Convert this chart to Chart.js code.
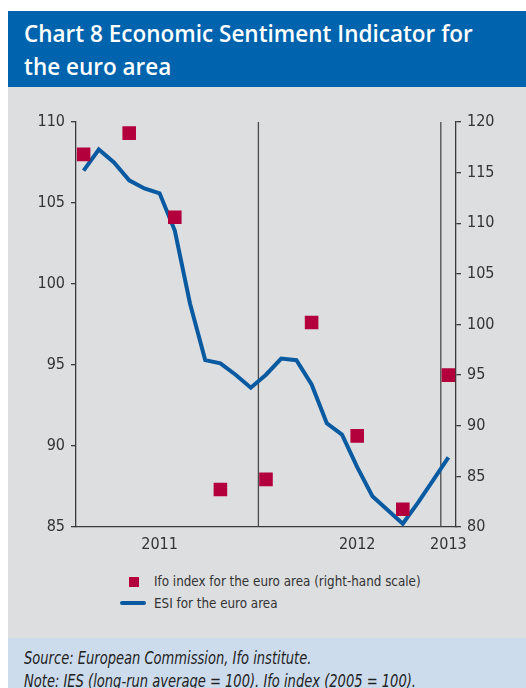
<!DOCTYPE html>
<html>
<head>
<meta charset="utf-8">
<script src="https://cdn.jsdelivr.net/npm/chart.js@4/dist/chart.umd.min.js"></script>
<style>
  html, body { margin: 0; padding: 0; background: #ffffff; }
  body { width: 526px; height: 688px; position: relative; overflow: hidden; }
  .title {
    position: absolute; left: 8px; top: 11px; width: 518px; height: 76px;
    background: #0063ae; color: #ffffff; box-sizing: border-box;
    padding: 6px 0 0 16px;
    font-family: "Open Sans", Lato, sans-serif; font-weight: 600;
    font-size: 22.5px; line-height: 33px; white-space: nowrap;
  }
  .panel {
    position: absolute; left: 8px; top: 87px; width: 518px; height: 551px;
    background: #dcdee0;
  }
  #chart { position: absolute; left: 0; top: 87px; }
  .legend {
    position: absolute; left: 0; top: 570px; width: 526px;
    font-family: "DejaVu Sans Condensed", "Liberation Sans Narrow", sans-serif;
    font-size: 13.3px; color: #333333;
  }
  .legend .row { position: absolute; left: 154px; white-space: nowrap; line-height: 16px; }
  .legend .sq { position: absolute; left: 129px; top: 7px; width: 10px; height: 10px; background: #b3003c; }
  .legend .ln { position: absolute; left: 120px; top: 31px; width: 26px; height: 4px; background: #0a5aa2; border-radius: 2px; }
  .footer {
    position: absolute; left: 8px; top: 638px; width: 518px; height: 60px;
    background: #cddcec; color: #222222; box-sizing: border-box;
    padding: 9px 0 0 16px;
    font-family: "DejaVu Sans Condensed", "Liberation Sans Narrow", sans-serif;
    font-style: italic; font-size: 17px; line-height: 23px; white-space: nowrap;
  }
  .footer span { display: inline-block; transform: scaleX(0.855); transform-origin: 0 50%; }
</style>
</head>
<body>
<div class="title">Chart 8 Economic Sentiment Indicator for<br>the euro area</div>
<div class="panel"></div>
<canvas id="chart" width="526" height="470"></canvas>
<div class="legend">
  <div class="sq"></div>
  <div class="row" style="top:4px;">Ifo index for the euro area (right-hand scale)</div>
  <div class="ln"></div>
  <div class="row" style="top:26px;">ESI for the euro area</div>
</div>
<div class="footer"><span>Source: European Commission, Ifo institute.</span><br><span>Note: IES (long-run average = 100). Ifo index (2005 = 100).</span></div>

<script>
// Monthly categories, January 2011 to January 2013
const months = [
  '2011-01','2011-02','2011-03','2011-04','2011-05','2011-06',
  '2011-07','2011-08','2011-09','2011-10','2011-11','2011-12',
  '2012-01','2012-02','2012-03','2012-04','2012-05','2012-06',
  '2012-07','2012-08','2012-09','2012-10','2012-11','2012-12',
  '2013-01'
];

// Economic Sentiment Indicator (left-hand scale)
const esiValues = [
  107.0, 108.3, 107.5, 106.4, 105.9, 105.6,
  103.3, 98.8, 95.3, 95.1, 94.4, 93.6,
  94.4, 95.4, 95.3, 93.8, 91.4, 90.7,
  88.7, 86.9, 86.05, 85.2, 86.5, 87.9,
  89.3
];

// Ifo index for the euro area, quarterly survey (right-hand scale)
const ifoMonths = ['2011-01','2011-04','2011-07','2011-10','2012-01','2012-04','2012-07','2012-10','2013-01'];
const ifoValues = [116.8, 118.9, 110.6, 83.7, 84.7, 100.2, 89.0, 81.75, 95.0];

// Year labels on the time axis and the month each is centred on
const yearLabels = ['2011', '2012', '2013'];
const yearLabelMonths = ['2011-06', '2012-07', '2013-01'];

// Left and right axis ranges
const leftTicks = { min: 85, max: 110, step: 5 };
const rightTicks = { min: 80, max: 120, step: 5 };

const tickFont = { family: '"DejaVu Sans Condensed", "Liberation Sans Narrow", sans-serif', size: 16 };
const axisInk = '#3a3a3a';

// Vertical separators at each January after the first
const yearSeparators = {
  id: 'yearSeparators',
  beforeDatasetsDraw(chart) {
    const x = chart.scales.x;
    const area = chart.chartArea;
    const ctx = chart.ctx;
    ctx.save();
    ctx.strokeStyle = '#4a4a4a';
    ctx.lineWidth = 1.3;
    months.forEach((m, i) => {
      if (i > 0 && m.endsWith('-01')) {
        const px = (x.getPixelForValue(i - 1) + x.getPixelForValue(i)) / 2;
        ctx.beginPath();
        ctx.moveTo(px, area.top);
        ctx.lineTo(px, area.bottom);
        ctx.stroke();
      }
    });
    ctx.restore();
  }
};

new Chart(document.getElementById('chart'), {
  type: 'line',
  data: {
    labels: months,
    datasets: [
      {
        label: 'Ifo index for the euro area (right-hand scale)',
        data: ifoMonths.map((m, i) => ({ x: m, y: ifoValues[i] })),
        yAxisID: 'y1',
        showLine: false,
        pointStyle: 'rect',
        pointRadius: 9.6,
        pointBorderWidth: 0,
        pointBackgroundColor: '#b3003c',
        backgroundColor: '#b3003c',
        order: 0
      },
      {
        label: 'ESI for the euro area',
        data: esiValues,
        yAxisID: 'y',
        borderColor: '#0a5aa2',
        borderWidth: 4,
        pointRadius: 0,
        tension: 0,
        borderJoinStyle: 'miter',
        order: 1
      }
    ]
  },
  options: {
    responsive: false,
    devicePixelRatio: 1,
    animation: false,
    layout: { padding: { top: 35, left: 0, right: 0, bottom: 0 } },
    plugins: { legend: { display: false }, tooltip: { enabled: false } },
    scales: {
      x: {
        type: 'category',
        offset: true,
        grid: { display: false, drawTicks: false },
        border: { display: true, color: axisInk, width: 1.3 },
        ticks: {
          autoSkip: false, maxRotation: 0, padding: 8,
          color: '#333333', font: tickFont,
          callback: (v, i) => {
            const k = yearLabelMonths.indexOf(months[i]);
            return k >= 0 ? yearLabels[k] : '';
          }
        },
        afterFit: s => { s.height = 30; }
      },
      y: {
        position: 'left',
        min: leftTicks.min, max: leftTicks.max,
        grid: { drawOnChartArea: false, drawTicks: true, tickLength: 5, color: axisInk, lineWidth: 1.3 },
        border: { display: true, color: axisInk, width: 1.3 },
        ticks: { stepSize: leftTicks.step, padding: 6, color: '#333333', font: tickFont },
        afterFit: s => { s.width = 76; }
      },
      y1: {
        position: 'right',
        min: rightTicks.min, max: rightTicks.max,
        grid: { drawOnChartArea: false, drawTicks: true, tickLength: 5, color: axisInk, lineWidth: 1.3 },
        border: { display: true, color: axisInk, width: 1.3 },
        ticks: { stepSize: rightTicks.step, padding: 6, color: '#333333', font: tickFont },
        afterFit: s => { s.width = 70; }
      }
    }
  },
  plugins: [yearSeparators]
});
</script>
</body>
</html>
